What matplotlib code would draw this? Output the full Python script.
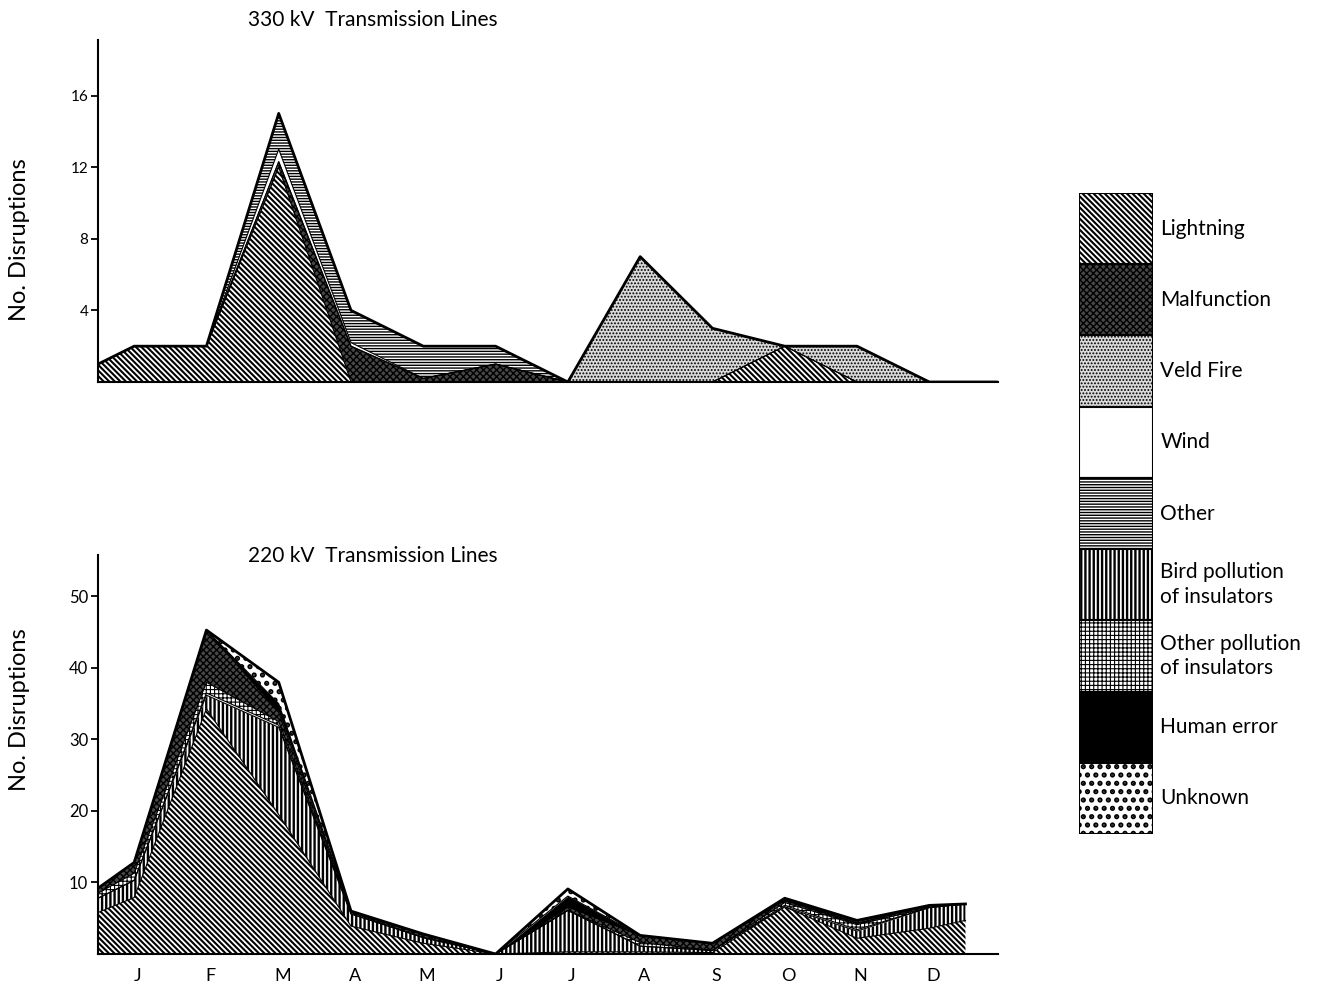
import numpy as np
import matplotlib.pyplot as plt
from matplotlib.patches import Rectangle

plt.rcParams['font.family'] = ['Lato', 'DejaVu Sans']
plt.rcParams['hatch.linewidth'] = 1.4

# * month positions (plus the half month before J and the run-out after D)
months = ['J', 'F', 'M', 'A', 'M', 'J', 'J', 'A', 'S', 'O', 'N', 'D']
x_330 = [-0.5, 0, 1, 2, 3, 4, 5, 6, 7, 8, 9, 10, 11, 11.93]
x_220 = [-0.5, 0, 1, 2, 3, 4, 5, 6, 7, 8, 9, 10, 11, 11.5]

# * 330 kV values
lightning_330 = [1, 2, 2, 12, 0, 0, 0, 0, 0, 0, 2, 0, 0, 0]
malfunction_330 = [0, 0, 0, 0.3, 2, 0.2, 1, 0, 0, 0, 0, 0, 0, 0]
veld_330 = [0, 0, 0, 0, 0, 0, 0, 0, 7, 3, 0, 2, 0, 0]
wind_330 = [0, 0, 0, 0.7, 0.2, 0, 0, 0, 0, 0, 0, 0, 0, 0]
other_330 = [0, 0, 0, 2, 1.8, 1.8, 1, 0, 0, 0, 0, 0, 0, 0]

# * 220 kV values
lightning_220 = [5.8, 7.9, 34.3, 19.5, 3.9, 1.5, 0, 0.3, 0.3, 0.2, 6.6, 2.2, 3.6, 4.7]
bird_220 = [2.0, 2.4, 1.9, 12.2, 1.7, 0.8, 0, 5.8, 0.8, 0.3, 0, 1.0, 2.9, 2.3]
wind_220 = [0, 0, 0.3, 0.3, 0, 0, 0, 0, 0, 0, 0.2, 0.2, 0, 0]
otherpoll_220 = [0.7, 1.0, 1.5, 0.5, 0.2, 0, 0, 0, 0.5, 0, 0.4, 0.7, 0, 0]
malfunction_220 = [0.7, 1.5, 7.3, 1.3, 0.2, 0.5, 0, 0.5, 1.0, 1.0, 0.3, 0.2, 0.3, 0]
human_220 = [0, 0, 0, 1.2, 0, 0, 0, 1.5, 0, 0, 0.3, 0.2, 0, 0]
unknown_220 = [0, 0, 0, 3.0, 0, 0, 0, 1.0, 0, 0, 0, 0.2, 0, 0]

# ! fill styles: (facecolor, hatch, hatch linewidth)
styles = {
    'Lightning': ('white', '\\' * 6, 1.5),
    'Malfunction': ('#474747', 'xxxxx', 1.0),
    'Veld Fire': ('#dadada', '.....', 0.9),
    'Wind': ('white', None, 1.0),
    'Other': ('white', '------', 1.0),
    'Bird pollution\nof insulators': ('white', '||||', 1.7),
    'Other pollution\nof insulators': ('white', '++++', 0.8),
    'Human error': ('black', None, 1.0),
    'Unknown': ('white', '..', 2.5),
}


def set_hatch(artist, lw):
    if hasattr(artist, 'set_hatch_linewidth'):
        artist.set_hatch_linewidth(lw)


def stack(ax, x, layers):
    # draw the layers one above the other, outline each boundary
    base = np.zeros(len(x))
    for name, vals in layers:
        top = base + np.array(vals)
        face, hatch, hlw = styles[name]
        with plt.rc_context({'hatch.linewidth': hlw}):
            coll = ax.fill_between(x, base, top, facecolor=face, hatch=hatch,
                                   edgecolor='black', linewidth=0)
        set_hatch(coll, hlw)
        ax.plot(x, top, color='black', lw=0.8)
        base = top
    ax.plot(x, base, color='black', lw=2)


def style_axes(ax, ymax, ticks):
    ax.set_xlim(-0.5, 11.95)
    ax.set_ylim(0, ymax)
    for s in ['top', 'right']:
        ax.spines[s].set_visible(False)
    ax.spines['left'].set_linewidth(1.5)
    ax.spines['bottom'].set_linewidth(1.5)
    ax.set_yticks(ticks)
    ax.tick_params(axis='y', length=5, width=1.3, labelsize=11, pad=2)
    ax.tick_params(axis='x', length=0)


fig = plt.figure(figsize=(13.21, 9.84), dpi=100)

ax1 = fig.add_axes([98/1321, 1-382/984, 900/1321, 342/984])
stack(ax1, x_330, [('Lightning', lightning_330), ('Malfunction', malfunction_330),
                   ('Veld Fire', veld_330), ('Wind', wind_330), ('Other', other_330)])
style_axes(ax1, 19.1, [4, 8, 12, 16])
ax1.set_xticks([])

ax2 = fig.add_axes([98/1321, 1-954/984, 900/1321, 399/984])
stack(ax2, x_220, [('Lightning', lightning_220), ('Bird pollution\nof insulators', bird_220),
                   ('Wind', wind_220), ('Other pollution\nof insulators', otherpoll_220),
                   ('Malfunction', malfunction_220), ('Human error', human_220),
                   ('Unknown', unknown_220)])
style_axes(ax2, 55.8, [10, 20, 30, 40, 50])
ax2.tick_params(axis='y', labelsize=12)
ax2.set_xticks(np.arange(len(months)) + 0.05)
ax2.set_xticklabels(months, fontsize=13)
ax2.tick_params(axis='x', pad=10)

fig.text(248/1321, 1-20/984, '330 kV  Transmission Lines', fontsize=15, va='center')
fig.text(248/1321, 1-556/984, '220 kV  Transmission Lines', fontsize=15, va='center')
fig.text(20/1321, 1-240/984, 'No. Disruptions', fontsize=17, rotation=90,
         ha='center', va='center')
fig.text(20/1321, 1-710/984, 'No. Disruptions', fontsize=17, rotation=90,
         ha='center', va='center')

# * legend column drawn by hand
names = list(styles.keys())
lg = fig.add_axes([1079/1321, 1-834/984, 74/1321, 641/984])
lg.set_xlim(0, 1)
lg.set_ylim(0, len(names))
lg.axis('off')
for i, name in enumerate(names):
    face, hatch, hlw = styles[name]
    y0 = len(names) - 1 - i
    with plt.rc_context({'hatch.linewidth': hlw}):
        rect = Rectangle((0, y0), 1, 1, facecolor=face, hatch=hatch,
                         edgecolor='black', linewidth=1.5)
    set_hatch(rect, hlw)
    lg.add_patch(rect)
    lg.text(1.1, y0 + 0.5, name, fontsize=15, va='center', ha='left',
            linespacing=1.3, clip_on=False)

fig.savefig('out.png', dpi=100)
